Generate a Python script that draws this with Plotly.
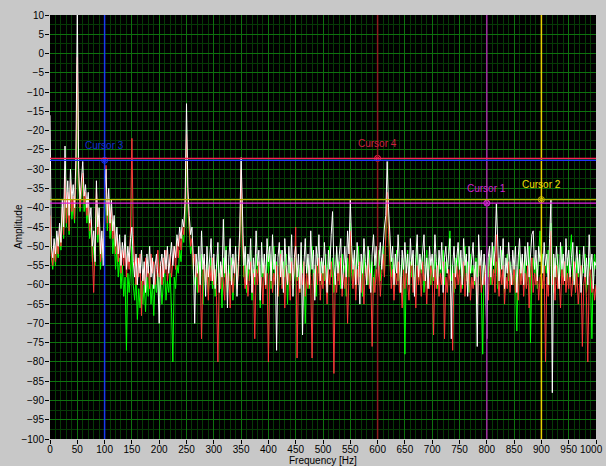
import numpy as np
import plotly.graph_objects as go

# Frequency axis: 0 .. 1000 Hz in 2.5 Hz bins
FREQ_STEP = 2.5
freq = [i * FREQ_STEP for i in range(401)]

# Amplitude spectra (dB), one list per 50 Hz block
white = (
    [-16,-50,-53,-48,-52,-46,-50,-44,-49,-38,-45,-24,-40,-33,-42,-30,-38,-34,-40,-27]
    + [12,-30,-38,-33,-28,-37,-34,-40,-36,-44,-40,-50,-46,-54,-33,-45,-40,-52,-46,-55]
    + [-36,-30,-42,-35,-44,-38,-46,-42,-50,-45,-52,-47,-55,-49,-53,-47,-56,-50,-54,-48]
    + [-45,-54,-58,-52,-60,-53,-57,-51,-59,-54,-62,-52,-57,-50,-58,-53,-61,-55,-52,-58]
    + [-70,-55,-52,-58,-51,-56,-50,-57,-53,-49,-55,-50,-53,-47,-50,-45,-48,-43,-45,-38]
    + [-13,-35,-42,-47,-45,-53,-70,-52,-57,-50,-60,-46,-56,-52,-63,-50,-58,-54,-48,-59]
    + [-52,-61,-55,-49,-62,-54,-58,-43,-57,-51,-66,-53,-48,-60,-52,-57,-50,-63,-54,-46]
    + [-27,-45,-55,-50,-60,-52,-56,-48,-62,-53,-58,-46,-55,-51,-64,-49,-57,-52,-60,-48]
    + [-54,-50,-59,-47,-56,-52,-77,-53,-49,-58,-51,-62,-48,-55,-60,-50,-57,-47,-63,-53]
    + [-50,-58,-52,-61,-49,-73,-55,-48,-57,-52,-60,-46,-56,-51,-64,-50,-55,-47,-59,-53]
    + [-57,-49,-55,-62,-51,-56,-47,-41,-55,-60,-50,-57,-52,-48,-61,-54,-50,-58,-46,-52]
    + [-38,-50,-56,-51,-60,-49,-55,-65,-52,-57,-48,-54,-60,-50,-56,-62,-52,-47,-55,-50]
    + [-58,-52,-49,-56,-50,-45,-42,-28,-40,-48,-54,-50,-60,-52,-57,-47,-55,-62,-51,-56]
    + [-49,-57,-52,-60,-48,-55,-51,-63,-53,-47,-58,-52,-56,-50,-47,-59,-53,-61,-50,-55]
    + [-52,-58,-47,-54,-60,-51,-56,-49,-62,-53,-50,-57,-52,-48,-74,-55,-50,-58,-53,-49]
    + [-56,-51,-60,-48,-55,-52,-63,-50,-57,-53,-49,-59,-54,-76,-47,-55,-51,-60,-52,-57]
    + [-74,-53,-50,-58,-49,-55,-51,-39,-52,-59,-50,-56,-48,-61,-53,-57,-49,-55,-60,-51]
    + [-56,-50,-62,-53,-48,-57,-52,-60,-50,-55,-49,-58,-53,-47,-46,-56,-51,-59,-50,-54]
    + [-51,-57,-49,-55,-52,-60,-48,-38,-88,-52,-58,-50,-55,-61,-49,-56,-52,-59,-48,-55]
    + [-51,-58,-53,-49,-60,-54,-50,-57,-52,-62,-55,-50,-58,-53,-60,-47,-56,-52,-61,-54]
    + [-55]
)

red = (
    [-42,-52,-55,-50,-54,-48,-52,-45,-50,-40,-47,-32,-44,-36,-46,-33,-41,-37,-43,-30]
    + [-1,-32,-40,-35,-31,-39,-36,-42,-38,-46,-43,-52,-62,-50,-35,-47,-42,-54,-48,-53]
    + [-40,-29,-44,-38,-46,-40,-48,-44,-52,-47,-54,-49,-57,-51,-55,-50,-58,-52,-56,-45]
    + [-22,-47,-55,-60,-53,-58,-52,-68,-56,-60,-53,-58,-55,-61,-52,-57,-54,-60,-56,-51]
    + [-58,-54,-60,-53,-57,-51,-59,-55,-52,-58,-54,-50,-56,-49,-53,-47,-51,-45,-47,-40]
    + [-21,-38,-45,-50,-48,-56,-52,-58,-55,-62,-54,-74,-58,-53,-60,-56,-64,-55,-59,-53]
    + [-60,-56,-63,-80,-57,-61,-55,-59,-64,-54,-60,-57,-66,-55,-62,-58,-53,-61,-57,-50]
    + [-30,-48,-57,-61,-55,-63,-58,-54,-62,-57,-74,-56,-60,-54,-62,-58,-65,-55,-61,-57]
    + [-80,-58,-54,-62,-57,-60,-55,-63,-58,-52,-61,-56,-66,-55,-60,-57,-64,-54,-59,-56]
    + [-45,-79,-58,-62,-56,-60,-54,-63,-57,-61,-55,-59,-79,-57,-62,-55,-60,-53,-64,-57]
    + [-61,-55,-59,-65,-56,-60,-54,-58,-83,-57,-62,-55,-60,-53,-63,-57,-61,-55,-70,-56]
    + [-46,-57,-61,-55,-64,-56,-60,-54,-62,-57,-65,-55,-59,-53,-61,-57,-76,-58,-62,-56]
    + [-60,-55,-63,-57,-52,-58,-48,-36,-47,-55,-61,-56,-64,-57,-60,-54,-62,-58,-66,-56]
    + [-61,-55,-59,-64,-57,-53,-62,-58,-66,-55,-60,-56,-63,-54,-59,-57,-65,-56,-61,-55]
    + [-58,-73,-56,-61,-55,-63,-57,-60,-54,-74,-58,-62,-56,-59,-64,-77,-57,-61,-55,-60]
    + [-56,-62,-58,-54,-63,-57,-60,-55,-64,-58,-61,-56,-59,-65,-57,-53,-62,-58,-60,-55]
    + [-59,-64,-57,-53,-60,-56,-62,-47,-58,-63,-56,-60,-55,-65,-58,-61,-54,-62,-57,-60]
    + [-55,-62,-58,-64,-56,-60,-54,-63,-57,-61,-55,-66,-58,-53,-62,-57,-60,-56,-64,-58]
    + [-57,-61,-55,-80,-58,-63,-56,-46,-60,-57,-64,-55,-61,-58,-66,-56,-60,-54,-62,-57]
    + [-61,-56,-63,-58,-54,-62,-57,-65,-59,-55,-76,-60,-57,-63,-80,-58,-55,-62,-59,-64]
    + [-60]
)

green = (
    [-45,-53,-56,-51,-55,-49,-53,-47,-51,-42,-48,-35,-45,-38,-47,-34,-43,-39,-44,-32]
    + [-3,-33,-41,-36,-33,-41,-38,-44,-40,-48,-45,-54,-50,-55,-40,-49,-44,-56,-50,-52]
    + [-42,-36,-46,-40,-48,-43,-52,-47,-56,-50,-58,-53,-61,-55,-63,-58,-77,-57,-62,-56]
    + [-50,-60,-64,-58,-69,-61,-66,-59,-65,-60,-67,-58,-63,-57,-65,-60,-68,-59,-62,-57]
    + [-63,-58,-65,-60,-56,-64,-59,-62,-57,-66,-80,-58,-61,-55,-57,-51,-54,-47,-49,-43]
    + [-22,-40,-47,-52,-50,-57,-60,-55,-62,-54,-58,-52,-65,-56,-60,-54,-62,-57,-53,-61]
    + [-55,-63,-57,-52,-60,-56,-66,-53,-58,-50,-62,-55,-59,-53,-64,-56,-52,-60,-55,-49]
    + [-34,-50,-58,-53,-62,-55,-59,-51,-64,-56,-60,-52,-57,-54,-66,-53,-58,-55,-61,-52]
    + [-57,-52,-61,-55,-50,-59,-54,-63,-56,-51,-60,-54,-58,-52,-65,-55,-59,-53,-61,-56]
    + [-53,-59,-55,-62,-51,-57,-54,-70,-58,-53,-61,-55,-50,-59,-56,-63,-52,-57,-54,-60]
    + [-54,-59,-52,-60,-55,-50,-58,-53,-62,-56,-51,-59,-54,-61,-52,-57,-55,-63,-53,-58]
    + [-44,-54,-59,-53,-61,-55,-50,-58,-54,-63,-52,-57,-55,-60,-51,-58,-54,-62,-56,-52]
    + [-56,-51,-59,-54,-50,-57,-45,-38,-44,-52,-58,-53,-61,-55,-51,-59,-54,-62,-53,-58]
    + [-78,-55,-51,-60,-54,-58,-52,-61,-56,-50,-59,-54,-57,-52,-62,-55,-51,-58,-53,-60]
    + [-54,-59,-52,-57,-61,-53,-58,-55,-51,-60,-54,-57,-52,-46,-59,-55,-62,-53,-57,-51]
    + [-58,-53,-61,-55,-50,-59,-54,-62,-52,-57,-55,-60,-53,-58,-51,-56,-61,-78,-54,-59]
    + [-53,-58,-52,-60,-55,-50,-57,-54,-61,-53,-58,-51,-56,-62,-55,-52,-59,-54,-57,-60]
    + [-54,-58,-72,-55,-51,-59,-53,-57,-52,-60,-55,-50,-75,-56,-53,-58,-54,-61,-52,-46]
    + [-55,-52,-59,-54,-57,-51,-60,-44,-56,-62,-53,-58,-52,-61,-55,-50,-58,-54,-60,-53]
    + [-57,-52,-47,-59,-54,-61,-53,-58,-51,-60,-55,-57,-52,-62,-56,-53,-59,-74,-55,-52]
    + [-56]
)

# Cursors: name, frequency, amplitude
cursor_names = ["Cursor 1", "Cursor 2", "Cursor 3", "Cursor 4"]
cursor_freq = [800, 900, 100, 600]
cursor_amp = [-38.8, -37.9, -27.7, -27.2]
cursor_hcolor = ["#e020e0", "#c0b400", "#2030ff", "#ff2050"]
cursor_vcolor = ["#a030a0", "#e8d000", "#1838f0", "#8a1c1c"]
cursor_tcolor = ["#d020d0", "#f0e000", "#1030d0", "#d02040"]

x_ticks = list(range(0, 1001, 50))
y_ticks = list(range(-100, 11, 5))
# the last frequency label is right-aligned at the window edge instead
x_ticktext = [str(v) for v in x_ticks[:-1]] + [""]

FONT = "Liberation Sans, Arial, sans-serif"
TICK_SIZE = 10

fig = go.Figure()
for ys, col in [(green, "#00ff00"), (red, "#ff3838"), (white, "#ffffff")]:
    fig.add_trace(go.Scatter(x=freq, y=ys, mode="lines",
                             line=dict(color=col, width=1),
                             hoverinfo="skip", showlegend=False))

shapes = []
for f, a, hc, vc in zip(cursor_freq, cursor_amp, cursor_hcolor, cursor_vcolor):
    shapes.append(dict(type="line", xref="x", yref="paper", x0=f, x1=f, y0=0, y1=1,
                       line=dict(color=vc, width=1.5)))
for f, a, hc, vc in zip(cursor_freq, cursor_amp, cursor_hcolor, cursor_vcolor):
    shapes.append(dict(type="line", xref="paper", yref="y", x0=0, x1=1, y0=a, y1=a,
                       line=dict(color=hc, width=1.2)))

annotations = []
for name, f, a, tc in zip(cursor_names, cursor_freq, cursor_amp, cursor_tcolor):
    annotations.append(dict(x=f, y=a, xref="x", yref="y", text=name, showarrow=False,
                            yshift=15, font=dict(family=FONT, size=10, color=tc)))

annotations.append(dict(x=x_ticks[-1], y=0, xref="x", yref="paper", text=str(x_ticks[-1]),
                        showarrow=False, xanchor="right", yanchor="middle",
                        xshift=9, yshift=-10,
                        font=dict(family=FONT, size=TICK_SIZE, color="#000000")))

# Axis titles placed in pixel offsets from the plot area
annotations.append(dict(x=0.5, y=0, xref="paper", yref="paper", text="Frequency [Hz]",
                        showarrow=False, yanchor="middle", yshift=-21,
                        font=dict(family=FONT, size=10, color="#000000")))
annotations.append(dict(x=0, y=0.5, xref="paper", yref="paper", text="Amplitude",
                        showarrow=False, xanchor="center", xshift=-32, textangle=-90,
                        font=dict(family=FONT, size=10, color="#000000")))

fig.add_trace(go.Scatter(x=cursor_freq, y=cursor_amp, mode="markers",
                         marker=dict(symbol="circle-x-open", size=6,
                                     color=cursor_hcolor, line=dict(width=1)),
                         hoverinfo="skip", showlegend=False))

fig.update_layout(
    width=606, height=466,
    margin=dict(l=50, r=10, t=15, b=27),
    paper_bgcolor="#c8c8c8",
    plot_bgcolor="#000000",
    shapes=shapes,
    annotations=annotations,
    font=dict(family=FONT, size=TICK_SIZE, color="#000000"),
    xaxis=dict(
        range=[0, 1000], tickvals=x_ticks, ticktext=x_ticktext,
        ticks="outside", ticklen=4,
        tickcolor="#000000", showgrid=True, gridcolor="#0e720e", gridwidth=1,
        zeroline=False, showline=False, automargin=False,
        ticklabelstandoff=-3,
        minor=dict(dtick=10, showgrid=True, gridcolor="#063a06", ticks=""),
        tickfont=dict(size=TICK_SIZE),
    ),
    yaxis=dict(
        range=[-100, 10], tickvals=y_ticks, ticks="outside", ticklen=4,
        tickcolor="#000000", showgrid=True, gridcolor="#0e720e", gridwidth=1,
        zeroline=False, showline=False, automargin=False,
        ticklabelstandoff=-1,
        minor=dict(dtick=2.5, showgrid=True, gridcolor="#063a06", ticks=""),
        tickfont=dict(size=TICK_SIZE),
    ),
)

fig.write_html("out.html")
